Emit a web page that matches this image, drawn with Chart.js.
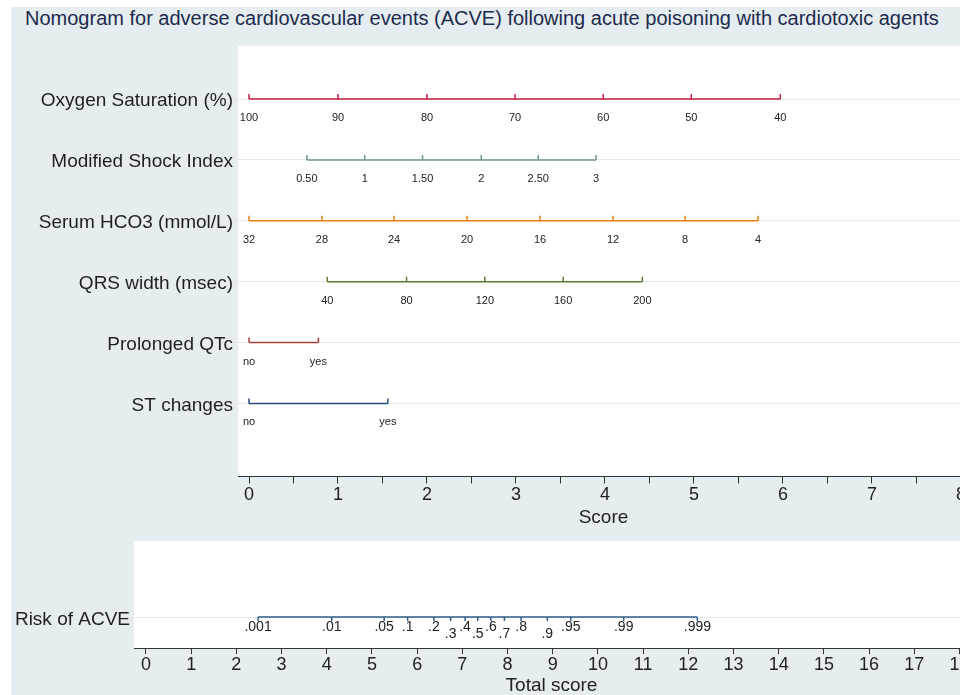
<!DOCTYPE html>
<html>
<head>
<meta charset="utf-8">
<script src="https://cdn.jsdelivr.net/npm/chart.js@4.4.0/dist/chart.umd.min.js"></script>
<style>
    html, body { margin: 0; padding: 0; width: 960px; height: 695px; overflow: hidden; background: #fff; }
    #panel { position: absolute; left: 11px; top: 7px; width: 990px; height: 700px; background: #e5edf0; }
    #title { position: absolute; left: 25px; top: 7px; font-family: "Liberation Sans", Arial, sans-serif; font-size: 20px; color: #1d2b4f; white-space: nowrap; }
    #top-chart { position: absolute; left: 0; top: 0; }
    #bottom-chart { position: absolute; left: 0; top: 530px; }
</style>
</head>
<body>
<div id="panel"></div>
<div id="title">Nomogram for adverse cardiovascular events (ACVE) following acute poisoning with cardiotoxic agents</div>
<canvas id="top-chart" width="975" height="530"></canvas>
<canvas id="bottom-chart" width="975" height="165"></canvas>
<script>
var rowNames = ['Oxygen Saturation (%)', 'Modified Shock Index', 'Serum HCO3 (mmol/L)', 'QRS width (msec)', 'Prolonged QTc', 'ST changes'];
var rowColors = ['#c41e3a', '#6f9690', '#e8800f', '#5b7c2c', '#a8403f', '#27497c'];

var oxygenLabels = ['100', '90', '80', '70', '60', '50', '40'];
var oxygenScores = [0, 1.00, 2.00, 2.99, 3.98, 4.97, 5.97];

var shockLabels = ['0.50', '1', '1.50', '2', '2.50', '3'];
var shockScores = [0.65, 1.30, 1.95, 2.61, 3.25, 3.90];

var hco3Labels = ['32', '28', '24', '20', '16', '12', '8', '4'];
var hco3Scores = [0, 0.82, 1.63, 2.45, 3.27, 4.09, 4.90, 5.72];

var qrsLabels = ['40', '80', '120', '160', '200'];
var qrsScores = [0.88, 1.77, 2.65, 3.53, 4.42];

var qtcLabels = ['no', 'yes'];
var qtcScores = [0, 0.78];

var stLabels = ['no', 'yes'];
var stScores = [0, 1.56];

var scoreTicks = [0, 0.5, 1, 1.5, 2, 2.5, 3, 3.5, 4, 4.5, 5, 5.5, 6, 6.5, 7, 7.5, 8];
var totalTicks = [0, 1, 2, 3, 4, 5, 6, 7, 8, 9, 10, 11, 12, 13, 14, 15, 16, 17, 18];

var riskLabels = ['.001', '.01', '.05', '.1', '.2', '.3', '.4', '.5', '.6', '.7', '.8', '.9', '.95', '.99', '.999'];
var riskScores = [2.48, 4.11, 5.27, 5.79, 6.37, 6.74, 7.06, 7.34, 7.63, 7.93, 8.30, 8.88, 9.40, 10.57, 12.20];
var riskColor = '#2f5b8a';

var rows = [
    { labels: oxygenLabels, scores: oxygenScores },
    { labels: shockLabels, scores: shockScores },
    { labels: hco3Labels, scores: hco3Scores },
    { labels: qrsLabels, scores: qrsScores },
    { labels: qtcLabels, scores: qtcScores },
    { labels: stLabels, scores: stScores }
];

Chart.defaults.font.family = '"Liberation Sans", Arial, sans-serif';
Chart.defaults.color = '#222';

// Fondo blanco del area de trazado
var whiteArea = {
    id: 'whiteArea',
    beforeDraw: function(chart) {
        var a = chart.chartArea;
        var ctx = chart.ctx;
        ctx.save();
        ctx.fillStyle = '#fff';
        ctx.fillRect(a.left, a.top, a.right - a.left, a.bottom - a.top);
        ctx.restore();
    }
};

// Marcas y etiquetas de cada variable
var rowTicks = {
    id: 'rowTicks',
    afterDatasetsDraw: function(chart) {
        var ctx = chart.ctx;
        var xs = chart.scales.x;
        var ys = chart.scales.y;
        ctx.save();
        ctx.lineWidth = 1.5;
        ctx.font = '11px "Liberation Sans", Arial, sans-serif';
        ctx.fillStyle = '#222';
        ctx.textAlign = 'center';
        ctx.textBaseline = 'middle';
        rows.forEach(function(r, i) {
            var py = ys.getPixelForValue(i + 1);
            ctx.strokeStyle = rowColors[i];
            r.scores.forEach(function(s, j) {
                var px = xs.getPixelForValue(s);
                ctx.beginPath();
                ctx.moveTo(px, py);
                ctx.lineTo(px, py - 5);
                ctx.stroke();
                ctx.fillText(r.labels[j], px, py + 19);
            });
        });
        ctx.restore();
    }
};

var riskDropped = ['.3', '.5', '.7', '.9'];

var riskTicks = {
    id: 'riskTicks',
    afterDatasetsDraw: function(chart) {
        var ctx = chart.ctx;
        var xs = chart.scales.x;
        var py = chart.scales.y.getPixelForValue(1);
        ctx.save();
        ctx.lineWidth = 1.5;
        ctx.strokeStyle = riskColor;
        ctx.font = '14px "Liberation Sans", Arial, sans-serif';
        ctx.fillStyle = '#222';
        ctx.textAlign = 'center';
        ctx.textBaseline = 'middle';
        riskScores.forEach(function(s, j) {
            var px = xs.getPixelForValue(s);
            ctx.beginPath();
            ctx.moveTo(px, py);
            ctx.lineTo(px, py + 4);
            ctx.stroke();
            var dy = riskDropped.indexOf(riskLabels[j]) >= 0 ? 17 : 10;
            ctx.fillText(riskLabels[j], px, py + dy);
        });
        ctx.restore();
    }
};

var topDatasets = rows.map(function(r, i) {
    return {
        data: [{ x: r.scores[0], y: i + 1 }, { x: r.scores[r.scores.length - 1], y: i + 1 }],
        borderColor: rowColors[i],
        borderWidth: 1.5,
        showLine: true,
        pointRadius: 0
    };
});

new Chart(document.getElementById('top-chart').getContext('2d'), {
    type: 'scatter',
    data: { datasets: topDatasets },
    options: {
        responsive: false,
        animation: false,
        layout: { padding: { top: 46, right: 6, bottom: 2, left: 0 } },
        plugins: { legend: { display: false }, tooltip: { enabled: false } },
        scales: {
            x: {
                type: 'linear',
                min: -0.1236,
                max: 8.09,
                afterBuildTicks: function(scale) {
                    scale.ticks = scoreTicks.map(function(v) { return { value: v }; });
                },
                ticks: {
                    autoSkip: false,
                    maxRotation: 0,
                    padding: 1,
                    font: { size: 18 },
                    callback: function(value) { return Number.isInteger(value) ? String(value) : ''; }
                },
                grid: { drawOnChartArea: false, drawTicks: true, tickLength: 7, color: '#333' },
                border: { display: true, color: '#333', width: 1 },
                title: { display: true, text: 'Score', font: { size: 19, lineHeight: 1.1 }, padding: { top: 0, bottom: 0 } }
            },
            y: {
                type: 'linear',
                reverse: true,
                min: 0.128,
                max: 7.2,
                afterFit: function(scale) { scale.width = 238; },
                afterBuildTicks: function(scale) {
                    scale.ticks = rowNames.map(function(n, i) { return { value: i + 1 }; });
                },
                ticks: {
                    padding: 5,
                    labelOffset: 2,
                    font: { size: 19 },
                    color: '#1f1f1f',
                    callback: function(value) { return rowNames[value - 1]; }
                },
                grid: { drawTicks: false, color: '#e3eaee', lineWidth: 1 },
                border: { display: false }
            }
        }
    },
    plugins: [whiteArea, rowTicks]
});

new Chart(document.getElementById('bottom-chart').getContext('2d'), {
    type: 'scatter',
    data: {
        datasets: [{
            data: [{ x: riskScores[0], y: 1 }, { x: riskScores[riskScores.length - 1], y: 1 }],
            borderColor: riskColor,
            borderWidth: 1.5,
            showLine: true,
            pointRadius: 0
        }]
    },
    options: {
        responsive: false,
        animation: false,
        layout: { padding: { top: 11, right: 6, bottom: 0, left: 0 } },
        plugins: { legend: { display: false }, tooltip: { enabled: false } },
        scales: {
            x: {
                type: 'linear',
                min: -0.265,
                max: 18.21,
                afterBuildTicks: function(scale) {
                    scale.ticks = totalTicks.map(function(v) { return { value: v }; });
                },
                ticks: { autoSkip: false, maxRotation: 0, padding: 1, font: { size: 18, lineHeight: 1.05 } },
                grid: { drawOnChartArea: false, drawTicks: true, tickLength: 6, color: '#333' },
                border: { display: true, color: '#333', width: 1 },
                title: { display: true, text: 'Total score', font: { size: 19, lineHeight: 1.0 }, padding: { top: 1, bottom: 0 } }
            },
            y: {
                type: 'linear',
                reverse: true,
                min: 0,
                max: 1.408,
                afterFit: function(scale) { scale.width = 134; },
                afterBuildTicks: function(scale) { scale.ticks = [{ value: 1 }]; },
                ticks: {
                    padding: 4,
                    labelOffset: 3,
                    font: { size: 19, lineHeight: 0.7 },
                    color: '#1f1f1f',
                    callback: function() { return 'Risk of ACVE'; }
                },
                grid: { drawTicks: false, color: '#e3eaee', lineWidth: 1 },
                border: { display: false }
            }
        }
    },
    plugins: [whiteArea, riskTicks]
});
</script>
</body>
</html>
